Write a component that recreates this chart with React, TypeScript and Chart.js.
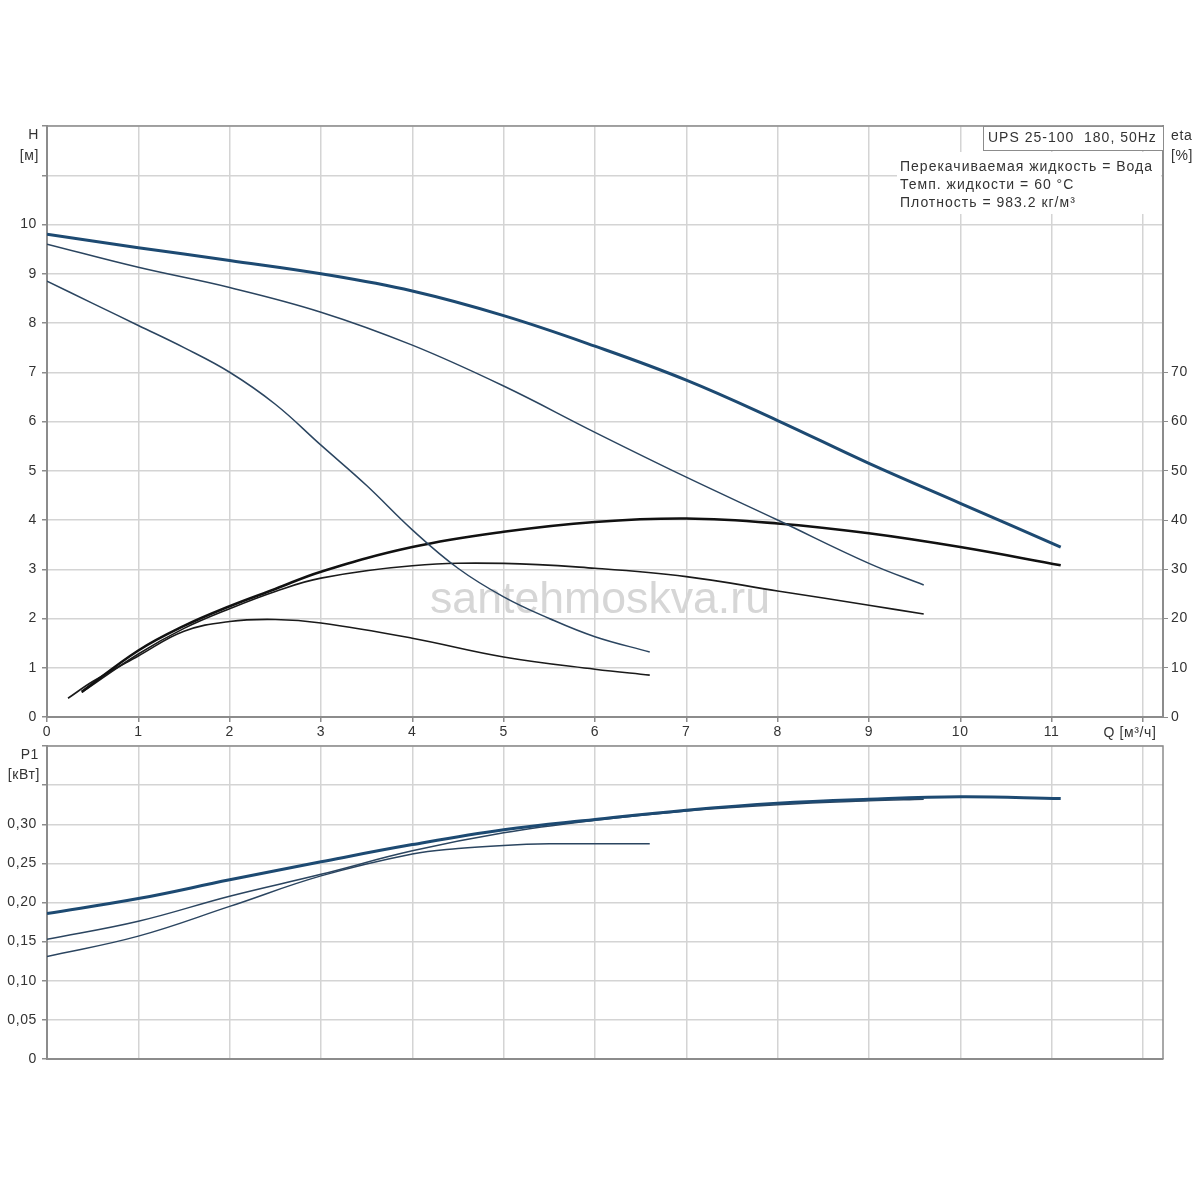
import React, { useEffect, useRef } from 'react';
import { Chart, registerables } from 'chart.js';

Chart.register(...registerables);

// --- top panel: head curves H [м] vs Q [м³/ч]
const qH1 = [0, 1, 2, 3, 4, 5, 6, 7, 8, 9, 10, 11.1];
const h1 = [9.8, 9.53, 9.27, 9.0, 8.65, 8.15, 7.53, 6.84, 6.02, 5.15, 4.34, 3.45];
const qH2 = [0, 1, 2, 3, 4, 5, 6, 7, 8, 9, 9.6];
const h2 = [9.6, 9.13, 8.72, 8.22, 7.55, 6.72, 5.78, 4.87, 4.0, 3.12, 2.68];
const qH3 = [0, 0.5, 1, 1.5, 2, 2.5, 3, 3.5, 4, 4.5, 5, 5.5, 6, 6.6];
const h3 = [8.85, 8.4, 7.95, 7.5, 7.0, 6.35, 5.52, 4.7, 3.8, 3.02, 2.44, 2.0, 1.63, 1.32];

// efficiency curves eta [%]
const qE1 = [0.38, 1, 1.5, 2, 2.5, 3, 4, 5, 6, 7, 8, 9, 10, 11.1];
const eta1 = [5.1, 13.5, 18.5, 22.5, 26, 29.5, 34.5, 37.6, 39.6, 40.3, 39.3, 37.3, 34.5, 30.8];
const qE2 = [0.38, 1, 1.5, 2, 2.5, 3, 4, 5, 6, 7, 8, 9, 9.6];
const eta2 = [5, 12.8, 18, 22, 25.5, 28.2, 30.7, 31.2, 30.2, 28.5, 25.6, 22.7, 20.9];
const qE3 = [0.23, 0.5, 1, 1.5, 2, 2.5, 3, 4, 5, 6, 6.6];
const eta3 = [3.8, 7.2, 12.4, 17.4, 19.4, 19.8, 19.1, 16, 12.2, 9.7, 8.5];

// --- bottom panel: P1 [кВт]
const qP1 = [0, 1, 2, 3, 4, 5, 6, 7, 8, 9, 10, 11.1];
const p1 = [0.186, 0.205, 0.229, 0.252, 0.274, 0.293, 0.306, 0.318, 0.327, 0.332, 0.335, 0.333];
const qP2 = [0, 1, 2, 3, 4, 5, 6, 7, 8, 9, 9.6];
const p2 = [0.153, 0.176, 0.208, 0.236, 0.266, 0.289, 0.305, 0.317, 0.325, 0.33, 0.332];
const qP3 = [0, 1, 2, 3, 4, 4.5, 5, 5.5, 6, 6.6];
const p3 = [0.131, 0.157, 0.195, 0.234, 0.262, 0.269, 0.273, 0.275, 0.275, 0.275];

const pumpTitle = 'UPS 25-100  180, 50Hz';
const infoLines = ['Перекачиваемая жидкость = Вода', 'Темп. жидкости = 60 °C', 'Плотность = 983.2 кг/м³'];
const watermark = 'santehmoskva.ru';

const FONT = "'Liberation Sans', Arial, sans-serif";
const GRID = '#d4d4d4';
const AXIS = '#8c8c8c';
const TEXT = '#333';
const BLUE = '#1d4a72';
const NAVY = '#2b4560';

const pts = (xs: number[], ys: number[]) => xs.map((x, i) => ({ x, y: ys[i] }));

const line = (label: string, data: { x: number; y: number }[], color: string, width: number, axis = 'y') => ({
    label,
    data,
    borderColor: color,
    borderWidth: width,
    pointRadius: 0,
    tension: 0.4,
    yAxisID: axis,
});

// slightly wider lettering, like the original raster
const spacing = {
    id: 'spacing',
    beforeDraw(chart: Chart) {
        (chart.ctx as any).letterSpacing = '0.6px';
    },
};

const topDecor = {
    id: 'topDecor',
    beforeDatasetsDraw(chart: Chart) {
        const ctx = chart.ctx as any;
        const a = chart.chartArea;
        ctx.save();
        ctx.letterSpacing = '0px';
        // watermark
        ctx.font = `40px ${FONT}`;
        const w = ctx.measureText(watermark).width;
        ctx.font = `${(40 * 340) / w}px ${FONT}`;
        ctx.fillStyle = '#d6d6d6';
        ctx.textAlign = 'center';
        ctx.textBaseline = 'alphabetic';
        ctx.fillText(watermark, 600, 613);
        // info block
        ctx.fillStyle = '#fff';
        ctx.fillRect(897, 152, a.right - 899, 62);
        ctx.fillRect(983, a.top, a.right - 983, 25);
        ctx.strokeStyle = AXIS;
        ctx.lineWidth = 1;
        ctx.strokeRect(983.5, a.top + 0.5, a.right - 983, 24);
        ctx.fillStyle = TEXT;
        ctx.textAlign = 'left';
        ctx.textBaseline = 'middle';
        ctx.font = `14px ${FONT}`;
        ctx.letterSpacing = '1px';
        ctx.fillText(pumpTitle, 988, 138);
        infoLines.forEach((t, i) => ctx.fillText(t, 900, 167 + i * 18));
        ctx.restore();
    },
    afterDraw(chart: Chart) {
        const ctx = chart.ctx;
        const a = chart.chartArea;
        ctx.save();
        ctx.strokeStyle = AXIS;
        ctx.lineWidth = 1.5;
        ctx.beginPath();
        ctx.moveTo(a.left, a.top);
        ctx.lineTo(a.right, a.top);
        ctx.stroke();
        ctx.fillStyle = TEXT;
        ctx.font = `14px ${FONT}`;
        ctx.textBaseline = 'middle';
        ctx.textAlign = 'right';
        ctx.fillText('H', 39, 135);
        ctx.fillText('[м]', 39, 156);
        ctx.textAlign = 'left';
        ctx.fillText('eta', 1171, 136);
        ctx.fillText('[%]', 1171, 156);
        ctx.textAlign = 'center';
        ctx.fillText('Q [м³/ч]', 1130, 733);
        ctx.restore();
    },
};

const bottomDecor = {
    id: 'bottomDecor',
    afterDraw(chart: Chart) {
        const ctx = chart.ctx;
        const a = chart.chartArea;
        ctx.save();
        ctx.strokeStyle = AXIS;
        ctx.lineWidth = 1.5;
        ctx.beginPath();
        ctx.moveTo(a.left, a.top);
        ctx.lineTo(a.right, a.top);
        ctx.lineTo(a.right, a.bottom);
        ctx.stroke();
        ctx.fillStyle = TEXT;
        ctx.font = `14px ${FONT}`;
        ctx.textBaseline = 'middle';
        ctx.textAlign = 'right';
        // canvas starts at page y = 732
        ctx.fillText('P1', 39, 755 - 732);
        ctx.fillText('[кВт]', 40, 775 - 732);
        ctx.restore();
    },
};

const tickFont = { family: FONT, size: 14 };
const tickMark = (limit: number) => (c: any) => (c.tick && c.tick.value <= limit ? AXIS : 'rgba(0,0,0,0)');

export default function App() {
    const topRef = useRef<HTMLCanvasElement>(null);
    const bottomRef = useRef<HTMLCanvasElement>(null);

    useEffect(() => {
        if (!topRef.current || !bottomRef.current) return;

        const top = new Chart(topRef.current, {
            type: 'line',
            data: {
                datasets: [
                    line('H1', pts(qH1, h1), BLUE, 3),
                    line('H2', pts(qH2, h2), NAVY, 1.5),
                    line('H3', pts(qH3, h3), NAVY, 1.5),
                    line('eta1', pts(qE1, eta1), '#111', 2.6, 'eta'),
                    line('eta2', pts(qE2, eta2), '#1a1a1a', 1.6, 'eta'),
                    line('eta3', pts(qE3, eta3), '#1a1a1a', 1.6, 'eta'),
                ],
            },
            options: {
                responsive: false,
                animation: false,
                layout: { padding: { top: 126, left: 0, right: 0, bottom: 0 } },
                plugins: { legend: { display: false }, tooltip: { enabled: false } },
                scales: {
                    x: {
                        type: 'linear',
                        min: 0,
                        max: 12.22,
                        ticks: {
                            stepSize: 1,
                            includeBounds: false,
                            autoSkip: false,
                            maxRotation: 0,
                            padding: 2,
                            color: TEXT,
                            font: tickFont,
                            callback: (v: any) => (v <= 11 ? String(v) : ''),
                        },
                        grid: { color: GRID, lineWidth: 1.5, tickLength: 5, tickColor: AXIS },
                        border: { color: AXIS, width: 2 },
                        afterFit: (s: any) => {
                            s.height = 25;
                        },
                    },
                    y: {
                        type: 'linear',
                        position: 'left',
                        min: 0,
                        max: 12,
                        ticks: {
                            stepSize: 1,
                            padding: 5,
                            color: TEXT,
                            font: tickFont,
                            callback: (v: any) => (v <= 10 ? String(v) : ''),
                        },
                        grid: { color: GRID, lineWidth: 1.5, tickLength: 5, tickColor: AXIS },
                        border: { color: AXIS, width: 2 },
                        afterFit: (s: any) => {
                            s.width = 47;
                        },
                    },
                    eta: {
                        type: 'linear',
                        position: 'right',
                        min: 0,
                        max: 120,
                        ticks: {
                            stepSize: 10,
                            padding: 3,
                            color: TEXT,
                            font: tickFont,
                            callback: (v: any) => (v <= 70 ? String(v) : ''),
                        },
                        grid: { drawOnChartArea: false, tickLength: 5, tickColor: tickMark(70) },
                        border: { color: AXIS, width: 2 },
                        afterFit: (s: any) => {
                            s.width = 37;
                        },
                    },
                },
            },
            plugins: [spacing, topDecor],
        });

        const bottom = new Chart(bottomRef.current, {
            type: 'line',
            data: {
                datasets: [
                    line('P1', pts(qP1, p1), BLUE, 3),
                    line('P2', pts(qP2, p2), NAVY, 1.5),
                    line('P3', pts(qP3, p3), NAVY, 1.5),
                ],
            },
            options: {
                responsive: false,
                animation: false,
                layout: { padding: { top: 14, left: 0, right: 37, bottom: 0 } },
                plugins: { legend: { display: false }, tooltip: { enabled: false } },
                scales: {
                    x: {
                        type: 'linear',
                        min: 0,
                        max: 12.22,
                        ticks: { stepSize: 1, includeBounds: false, display: false },
                        grid: { color: GRID, lineWidth: 1.5, tickLength: 0, drawTicks: false },
                        border: { color: AXIS, width: 2 },
                        afterFit: (s: any) => {
                            s.height = 21;
                        },
                    },
                    y: {
                        type: 'linear',
                        min: 0,
                        max: 0.4,
                        ticks: {
                            stepSize: 0.05,
                            padding: 5,
                            color: TEXT,
                            font: tickFont,
                            callback: (v: any) =>
                                v > 0.301 ? '' : v === 0 ? '0' : Number(v).toFixed(2).replace('.', ','),
                        },
                        grid: { color: GRID, lineWidth: 1.5, tickLength: 5, tickColor: AXIS },
                        border: { color: AXIS, width: 2 },
                        afterFit: (s: any) => {
                            s.width = 47;
                        },
                    },
                },
            },
            plugins: [spacing, bottomDecor],
        });

        return () => {
            top.destroy();
            bottom.destroy();
        };
    }, []);

    return (
        <div style={{ position: 'absolute', left: 0, top: 0, width: 1200, height: 1200, background: '#fff' }}>
            <canvas ref={topRef} width={1200} height={742} style={{ position: 'absolute', left: 0, top: 0 }} />
            <canvas ref={bottomRef} width={1200} height={348} style={{ position: 'absolute', left: 0, top: 732 }} />
        </div>
    );
}
